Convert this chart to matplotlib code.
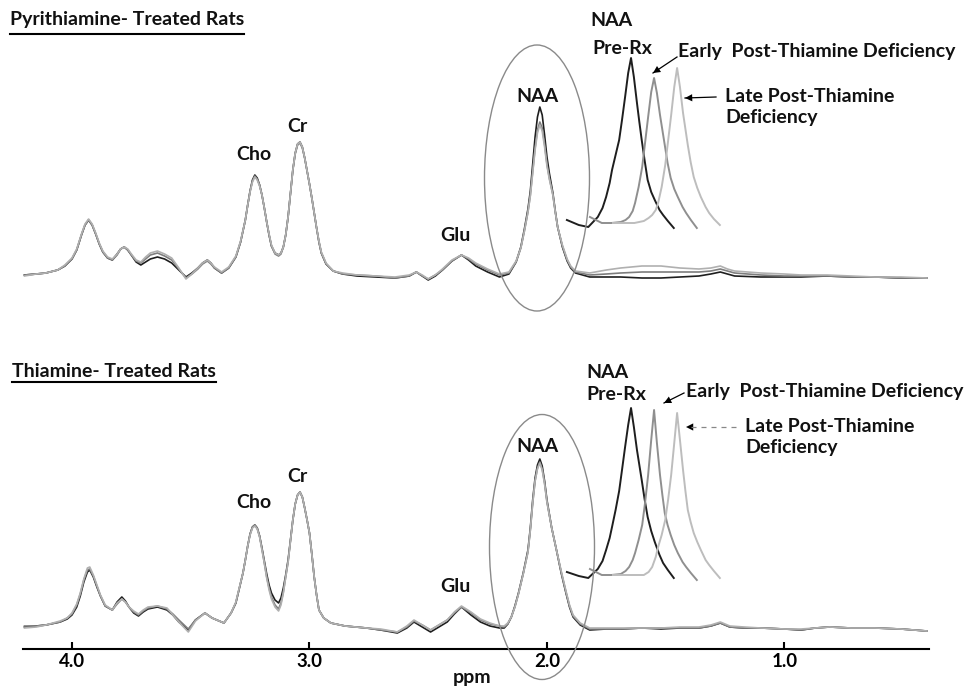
import matplotlib
matplotlib.use("Agg")
import matplotlib.pyplot as plt
from matplotlib.patches import Ellipse, FancyArrowPatch
from matplotlib.lines import Line2D

plt.rcParams["font.family"] = ["Lato", "DejaVu Sans"]

# --- pyrithiamine-treated rats: ppm vs signal (arbitrary units), 3 time points ---
pyr_ppm = [4.20, 4.15, 4.11, 4.06, 4.03, 4.00, 3.98, 3.96, 3.945, 3.93,
           3.915, 3.90, 3.885, 3.87, 3.85, 3.83, 3.81, 3.795, 3.78, 3.765,
           3.75, 3.73, 3.71, 3.69, 3.67, 3.64, 3.61, 3.58, 3.55, 3.52,
           3.495, 3.47, 3.45, 3.43, 3.415, 3.40, 3.37, 3.34, 3.31, 3.29,
           3.27, 3.26, 3.25, 3.24, 3.23, 3.22, 3.21, 3.20, 3.19, 3.18,
           3.17, 3.16, 3.145, 3.13, 3.12, 3.11, 3.10, 3.09, 3.08, 3.07,
           3.06, 3.05, 3.04, 3.03, 3.02, 3.01, 3.00, 2.99, 2.98, 2.97,
           2.96, 2.95, 2.93, 2.90, 2.86, 2.80, 2.72, 2.64, 2.58, 2.55,
           2.525, 2.50, 2.47, 2.44, 2.40, 2.36, 2.33, 2.30, 2.25, 2.20,
           2.16, 2.13, 2.11, 2.095, 2.08, 2.07, 2.06, 2.05, 2.04, 2.03,
           2.02, 2.01, 2.00, 1.99, 1.975, 1.965, 1.955, 1.935, 1.915, 1.90,
           1.88, 1.82, 1.75, 1.69, 1.60, 1.52, 1.44, 1.36, 1.31, 1.27,
           1.24, 1.21, 1.10, 1.00, 0.93, 0.82, 0.72, 0.62, 0.51, 0.40]
pyr_pre = [2, 3, 4, 7, 11, 18, 27, 42, 52, 57,
           52, 43, 33, 25, 19, 17, 23, 28, 30, 27,
           22, 15, 12, 15, 18, 20, 18, 14, 7, 0,
           4, 9, 14, 17, 14, 9, 4, 9, 20, 35,
           57, 72, 86, 97, 102, 99, 92, 82, 69, 55,
           42, 31, 24, 22, 24, 30, 42, 60, 83, 107,
           124, 133, 135, 130, 119, 106, 93, 79, 64, 49,
           35, 24, 13, 6, 3, 1, 0, -1, 1, 5,
           1, -3, 1, 7, 16, 22, 17, 11, 5, 0,
           3, 15, 30, 48, 68, 86, 113, 140, 160, 170,
           162, 142, 120, 104, 84, 66, 50, 30, 16, 9,
           4, 0, 0, 0, -1, -1, 0, 1, 3, 5,
           3, 1, 0, 0, 0, 1, 0, 0, -1, -1]
pyr_early = [2, 3, 4, 7, 11, 18, 27, 42, 52, 57,
             52, 43, 33, 25, 19, 17, 22, 28, 30, 27,
             22, 16, 14, 18, 22, 24, 21, 17, 8, -1,
             3, 8, 13, 16, 13, 9, 4, 9, 20, 35,
             57, 72, 86, 96, 101, 98, 92, 82, 69, 55,
             42, 31, 23, 21, 23, 30, 42, 60, 83, 107,
             123, 132, 134, 129, 119, 106, 93, 79, 64, 49,
             35, 24, 13, 6, 3, 2, 1, -1, 1, 5,
             1, -2, 2, 7, 16, 22, 18, 13, 7, 2,
             4, 15, 29, 46, 65, 82, 106, 129, 147, 155,
             149, 133, 113, 99, 82, 65, 50, 31, 17, 10,
             5, 2, 3, 4, 5, 5, 5, 5, 6, 8,
             6, 4, 2, 1, 1, 1, 0, 0, -1, -1]
pyr_late = [1, 3, 4, 7, 12, 19, 28, 43, 53, 58,
            53, 44, 34, 26, 20, 18, 23, 28, 30, 28,
            23, 17, 15, 20, 24, 26, 23, 19, 9, -2,
            3, 9, 14, 17, 14, 10, 5, 10, 21, 36,
            57, 72, 85, 95, 100, 97, 91, 82, 69, 55,
            43, 32, 24, 22, 24, 30, 42, 60, 83, 107,
            124, 133, 135, 130, 119, 106, 93, 79, 64, 49,
            36, 25, 14, 6, 4, 2, 1, 0, 2, 5,
            2, -2, 2, 8, 17, 22, 19, 14, 8, 3,
            5, 16, 29, 46, 65, 81, 104, 127, 144, 152,
            146, 130, 111, 98, 82, 65, 50, 32, 18, 11,
            6, 4, 7, 9, 11, 11, 9, 8, 9, 11,
            8, 6, 4, 3, 2, 2, 1, 0, 0, -1]

# --- thiamine-treated rats ---
thi_ppm = [4.20, 4.15, 4.11, 4.05, 4.02, 4.00, 3.98, 3.965, 3.95, 3.935,
           3.925, 3.91, 3.895, 3.88, 3.86, 3.83, 3.81, 3.79, 3.775, 3.76,
           3.74, 3.72, 3.70, 3.68, 3.64, 3.60, 3.575, 3.55, 3.51, 3.48,
           3.44, 3.41, 3.36, 3.33, 3.31, 3.30, 3.28, 3.27, 3.26, 3.25,
           3.24, 3.23, 3.22, 3.21, 3.20, 3.19, 3.18, 3.17, 3.16, 3.145,
           3.13, 3.12, 3.11, 3.10, 3.09, 3.08, 3.07, 3.06, 3.05, 3.04,
           3.03, 3.02, 3.01, 3.00, 2.99, 2.98, 2.97, 2.96, 2.94, 2.91,
           2.85, 2.76, 2.70, 2.63, 2.59, 2.56, 2.525, 2.49, 2.455, 2.42,
           2.39, 2.36, 2.32, 2.28, 2.24, 2.20, 2.18, 2.165, 2.15, 2.135,
           2.12, 2.10, 2.08, 2.07, 2.06, 2.05, 2.04, 2.03, 2.02, 2.01,
           2.00, 1.98, 1.96, 1.94, 1.92, 1.905, 1.89, 1.86, 1.82, 1.75,
           1.69, 1.60, 1.52, 1.44, 1.36, 1.31, 1.27, 1.23, 1.17, 1.10,
           1.00, 0.93, 0.87, 0.81, 0.72, 0.62, 0.51, 0.40]
thi_pre = [1, 2, 3, 6, 9, 13, 21, 32, 46, 56,
           58, 51, 41, 32, 22, 18, 26, 31, 27, 21,
           15, 12, 16, 19, 21, 18, 13, 6, -2, 8,
           15, 10, 5, 15, 25, 35, 55, 68, 82, 94,
           101, 103, 100, 92, 80, 67, 54, 43, 35, 28,
           25, 30, 40, 53, 68, 88, 108, 124, 133, 136,
           131, 120, 108, 95, 74, 51, 33, 18, 10, 5,
           2, 0, -2, -5, 0, 6, 1, -4, 1, 6,
           14, 21, 13, 6, 2, 0, 0, 4, 11, 22,
           35, 55, 78, 100, 128, 150, 163, 169, 162, 147,
           128, 100, 78, 55, 35, 21, 11, 3, -2, -1,
           -1, 0, -1, 0, 0, 2, 5, 1, 0, 0,
           -1, -2, 0, 1, 0, 0, -1, -3]
thi_early = [2, 2, 3, 6, 10, 14, 23, 34, 48, 58,
             59, 52, 42, 32, 22, 18, 24, 29, 26, 21,
             16, 13, 17, 20, 22, 19, 14, 8, -1, 8,
             15, 10, 5, 15, 25, 35, 55, 68, 82, 94,
             101, 103, 100, 92, 79, 65, 51, 40, 31, 23,
             19, 25, 36, 51, 66, 87, 108, 124, 133, 136,
             131, 120, 108, 95, 74, 51, 33, 18, 10, 5,
             2, 0, -2, -4, 1, 7, 3, -2, 3, 8,
             15, 21, 15, 8, 4, 2, 1, 4, 11, 21,
             34, 54, 76, 98, 125, 147, 160, 166, 159, 145,
             126, 100, 78, 56, 36, 22, 12, 4, -1, -1,
             -1, 0, 0, 0, 0, 2, 5, 1, 0, 0,
             -1, -2, 0, 1, 0, 0, -1, -3]
thi_late = [0, 1, 3, 7, 10, 15, 24, 35, 49, 60,
            61, 53, 43, 33, 23, 18, 25, 29, 26, 21,
            17, 14, 18, 21, 22, 20, 13, 6, -4, 7,
            15, 10, 5, 15, 26, 36, 55, 68, 82, 93,
            100, 102, 99, 91, 78, 65, 50, 38, 29, 21,
            17, 23, 35, 51, 66, 87, 108, 124, 133, 136,
            131, 120, 108, 95, 74, 51, 33, 18, 10, 5,
            2, 0, -1, -4, 2, 8, 3, -2, 3, 8,
            16, 22, 16, 9, 5, 2, 2, 5, 11, 21,
            34, 54, 76, 98, 125, 147, 159, 165, 158, 144,
            126, 100, 78, 57, 37, 23, 13, 5, 0, 0,
            0, 0, 0, 1, 1, 3, 6, 2, 1, 0,
            -1, -1, 0, 1, 0, 0, -1, -3]

# --- NAA close-up: ppm offset from each peak apex vs signal ---
naa_dppm = [0.27, 0.22, 0.18, 0.14, 0.12, 0.105, 0.09, 0.08, 0.065, 0.05,
            0.038, 0.025, 0.012, 0.0, -0.012, -0.025, -0.035, -0.045, -0.057, -0.07,
            -0.085, -0.10, -0.12, -0.135, -0.155, -0.18]
pyr_naa_pre = [5, 0, -2, 8, 17, 28, 42, 55, 70, 85,
               105, 128, 152, 167, 148, 122, 103, 85, 65, 45,
               33, 25, 15, 10, 4, -3]
pyr_naa_early = [8, 2, 2, 3, 5, 8, 14, 22, 38, 58,
                 82, 108, 133, 147, 132, 110, 95, 80, 62, 47,
                 36, 28, 18, 12, 5, -3]
pyr_naa_late = [2, 2, 2, 4, 7, 10, 15, 22, 38, 60,
                84, 110, 138, 157, 138, 112, 96, 80, 63, 48,
                37, 28, 18, 12, 6, 0]
thi_naa_pre = [3, -1, -3, 6, 14, 25, 37, 48, 65, 84,
               105, 128, 150, 167, 148, 125, 110, 95, 76, 58,
               44, 33, 20, 12, 5, -3]
thi_naa_early = [6, 0, 0, 1, 4, 8, 15, 22, 35, 50,
                 72, 100, 135, 165, 132, 100, 80, 62, 50, 40,
                 30, 22, 13, 8, 2, -5]
thi_naa_late = [0, 0, 0, 0, 3, 8, 18, 28, 40, 55,
                75, 100, 132, 162, 135, 105, 84, 65, 53, 42,
                33, 25, 15, 10, 4, -3]

ticks = [4.0, 3.0, 2.0, 1.0]
tick_labels = ["4.0", "3.0", "2.0", "1.0"]

for xs, ys in [(pyr_ppm, pyr_pre), (pyr_ppm, pyr_early), (pyr_ppm, pyr_late),
               (thi_ppm, thi_pre), (thi_ppm, thi_early), (thi_ppm, thi_late),
               (naa_dppm, pyr_naa_pre), (naa_dppm, pyr_naa_early), (naa_dppm, pyr_naa_late),
               (naa_dppm, thi_naa_pre), (naa_dppm, thi_naa_early), (naa_dppm, thi_naa_late)]:
    assert len(xs) == len(ys), (len(xs), len(ys))

W, H = 964, 688
fig = plt.figure(figsize=(W / 100, H / 100), dpi=100)


def fx(x):
    return x / W


def fy(y):
    return 1 - y / H


main_colors = ["#1e1e1e", "#7d7d7d", "#b0b0b0"]
inset_colors = ["#1e1e1e", "#8f8f8f", "#bdbdbd"]
XLIM = (4.303, 0.244)
NAA_APEX = 1.646     # where the close-up of the first trace is drawn
STAGGER = 0.097      # horizontal shift between close-up traces


def panel(rect, ylim, ppm, traces, naa_traces, naa_base):
    ax = fig.add_axes(rect)
    ax.set_xlim(*XLIM)
    ax.set_ylim(*ylim)
    for vals, c in zip(traces, main_colors):
        ax.plot(ppm, vals, color=c, lw=1.2, solid_joinstyle="round")
    for k, (vals, c) in enumerate(zip(naa_traces, inset_colors)):
        xs = [NAA_APEX - k * STAGGER + d for d in naa_dppm]
        ax.plot(xs, [naa_base + v for v in vals], color=c, lw=1.4,
                solid_joinstyle="round")
    for s in ax.spines.values():
        s.set_visible(False)
    ax.set_yticks([])
    ax.set_xticks([])
    ax.patch.set_alpha(0)
    return ax


ax_top = panel([0, 0.5, 1, 0.5], (-67, 277), pyr_ppm,
               [pyr_pre, pyr_early, pyr_late],
               [pyr_naa_pre, pyr_naa_early, pyr_naa_late], 52)
ax_bot = panel([0, 0, 1, 0.5], (-60, 284), thi_ppm,
               [thi_pre, thi_early, thi_late],
               [thi_naa_pre, thi_naa_early, thi_naa_late], 53)

# ppm axis on the lower panel
sp = ax_bot.spines["bottom"]
sp.set_visible(True)
sp.set_position(("data", -21))
sp.set_bounds(4.206, 0.39)
sp.set_linewidth(1.5)
ax_bot.set_xticks(ticks)
ax_bot.set_xticklabels(tick_labels)
ax_bot.tick_params(axis="x", direction="in", length=5, width=1.5, pad=3,
                   labelsize=13.5)
for lab in ax_bot.get_xticklabels():
    lab.set_fontweight("bold")

txt = dict(fontsize=14, fontweight="bold", color="#111111")


def label(x, y, s, ha="center", **kw):
    return fig.text(fx(x), fy(y), s, ha=ha, va="center", **{**txt, **kw})


fig.text(fx(472), fy(678), "ppm", ha="center", va="center", **txt)

# titles with underline
for x0, yb, yl, s in [(10, 25, 34, "Pyrithiamine- Treated Rats"),
                      (12, 377, 382, "Thiamine- Treated Rats")]:
    t = fig.text(fx(x0), fy(yb), s, ha="left", va="baseline", **txt)
    fig.canvas.draw()
    bb = t.get_window_extent()
    fig.add_artist(Line2D([fx(bb.x0), fx(bb.x1)], [fy(yl), fy(yl)],
                          transform=fig.transFigure, color="black", lw=1.5))

# peak labels
for x, y, s in [(254, 154, "Cho"), (297, 127, "Cr"), (455, 235, "Glu"), (537, 96, "NAA"),
                (254, 503, "Cho"), (297, 477, "Cr"), (455, 586, "Glu"), (537, 446, "NAA")]:
    label(x, y, s)

# close-up annotations
for x, y, s in [(590, 20, "NAA"), (592, 48, "Pre-Rx"),
                (678, 52, "Early  Post-Thiamine Deficiency"),
                (725, 97, "Late Post-Thiamine"), (725, 118, "Deficiency"),
                (586, 372, "NAA"), (586, 395, "Pre-Rx"),
                (686, 392, "Early  Post-Thiamine Deficiency"),
                (745, 427, "Late Post-Thiamine"), (745, 448, "Deficiency")]:
    label(x, y, s, ha="left")

arrows = [((677, 57), (653, 73), "-"), ((716, 97), (685, 98), "-"),
          ((684, 393), (664, 403), "-"), ((736, 427), (686, 427), (0, (4, 4)))]
for (x0, y0), (x1, y1), ls in arrows:
    fig.add_artist(Line2D([fx(x0), fx(x1)], [fy(y0), fy(y1)], transform=fig.transFigure,
                          color="black" if ls == "-" else "#888888", lw=0.9, linestyle=ls))
    fig.add_artist(FancyArrowPatch(
        (fx(x0 + 0.35 * (x1 - x0)), fy(y0 + 0.35 * (y1 - y0))), (fx(x1), fy(y1)),
        transform=fig.transFigure, arrowstyle="-|>", mutation_scale=13,
        color="black", lw=0, shrinkA=0, shrinkB=0))

# NAA ellipses
for cx, cy, w, h in [(537, 178, 105, 266), (542, 547, 105, 265)]:
    fig.add_artist(Ellipse((fx(cx), fy(cy)), w / W, h / H, transform=fig.transFigure,
                           fill=False, edgecolor="#8a8a8a", lw=1.0))

fig.savefig("out.png", dpi=100)
